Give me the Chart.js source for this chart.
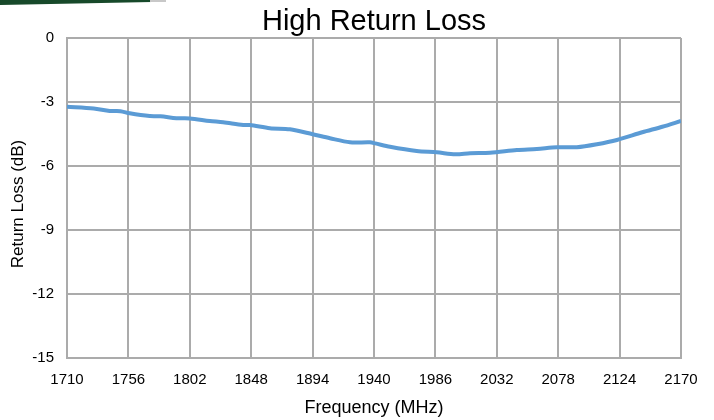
<!DOCTYPE html>
<html>
<head>
<meta charset="utf-8">
<script src="https://cdn.jsdelivr.net/npm/chart.js@4/dist/chart.umd.min.js"></script>
<style>
  html, body { margin: 0; padding: 0; background: #fff; }
  #wrap { position: relative; width: 714px; height: 420px; overflow: hidden; }
  #brand { position: absolute; left: 0; top: 0; width: 152px; height: 5px; background: #17492a;
           clip-path: polygon(0 0, 152px 0, 152px 2px, 0 5px); }
  #brand2 { position: absolute; left: 150px; top: 0; width: 16px; height: 2px; background: #c8c8c8; }
  canvas { position: absolute; left: 0; top: 0; }
</style>
</head>
<body>
<div id="wrap">
  <canvas id="chart" width="714" height="420"></canvas>
  <div id="brand"></div>
  <div id="brand2"></div>
</div>
<script>
// Measured return loss across the 1710–2170 MHz band
const frequencyMHz = [1710, 1730, 1742, 1750, 1757, 1772, 1780, 1792, 1802, 1817, 1827, 1842,
                      1847, 1862, 1877, 1894, 1907, 1922, 1937, 1941, 1952, 1972, 1987, 2001,
                      2012, 2027, 2047, 2062, 2077, 2092, 2107, 2122, 2141, 2156, 2170];
const returnLossDb = [-3.22, -3.30, -3.42, -3.43, -3.53, -3.66, -3.67, -3.76, -3.77, -3.89, -3.95, -4.08,
                      -4.08, -4.23, -4.28, -4.51, -4.70, -4.89, -4.89, -4.94, -5.10, -5.30, -5.36, -5.45,
                      -5.40, -5.38, -5.25, -5.20, -5.12, -5.12, -4.98, -4.78, -4.42, -4.16, -3.89];

const xTickValues = [1710, 1756, 1802, 1848, 1894, 1940, 1986, 2032, 2078, 2124, 2170];
const yTickValues = [0, -3, -6, -9, -12, -15];

const chartTitle = 'High Return Loss';
const xAxisTitle = 'Frequency (MHz)';
const yAxisTitle = 'Return Loss (dB)';

const FONT = '"Liberation Sans", Arial, sans-serif';
const GRID = '#ababab';

// Chart title centred over the plot area, and the rotated y-axis title
const titlesPlugin = {
  id: 'titles',
  afterDraw(chart) {
    const { ctx, chartArea } = chart;
    ctx.save();
    ctx.fillStyle = '#000';
    ctx.font = '29px ' + FONT;
    ctx.textAlign = 'center';
    ctx.textBaseline = 'alphabetic';
    ctx.fillText(chartTitle, (chartArea.left + chartArea.right) / 2, 30);

    ctx.font = '17px ' + FONT;
    ctx.textBaseline = 'middle';
    ctx.translate(18, 204);
    ctx.rotate(-Math.PI / 2);
    ctx.fillText(yAxisTitle, 0, 0);
    ctx.restore();
  }
};

new Chart(document.getElementById('chart'), {
  type: 'line',
  data: {
    datasets: [{
      data: frequencyMHz.map((f, i) => ({ x: f, y: returnLossDb[i] })),
      borderColor: '#5b9bd5',
      borderWidth: 4,
      pointRadius: 0,
      tension: 0.3,
      fill: false
    }]
  },
  options: {
    responsive: false,
    animation: false,
    devicePixelRatio: 1,
    layout: { padding: { top: 38, right: 33, bottom: 0, left: 0 } },
    plugins: { legend: { display: false }, tooltip: { enabled: false }, title: { display: false } },
    scales: {
      x: {
        type: 'linear',
        min: 1710,
        max: 2170,
        afterBuildTicks: (s) => { s.ticks = xTickValues.map(v => ({ value: v })); },
        afterFit: (s) => { s.height = 62; },
        grid: { color: GRID, lineWidth: 2, drawTicks: false },
        border: { color: GRID, width: 2 },
        ticks: {
          padding: 13,
          color: '#000',
          font: { family: FONT, size: 15 },
          callback: (v) => String(v),
          maxRotation: 0,
          autoSkip: false
        },
        title: {
          display: true,
          text: xAxisTitle,
          color: '#000',
          font: { family: FONT, size: 18 },
          padding: { top: 0, bottom: 1 }
        }
      },
      y: {
        min: -15,
        max: 0,
        afterBuildTicks: (s) => { s.ticks = yTickValues.map(v => ({ value: v })); },
        afterFit: (s) => { s.width = 67; },
        grid: { color: GRID, lineWidth: 2, drawTicks: false },
        border: { color: GRID, width: 2 },
        ticks: {
          padding: 13,
          color: '#000',
          font: { family: FONT, size: 15 },
          callback: (v) => String(v)
        }
      }
    }
  },
  plugins: [titlesPlugin]
});
</script>
</body>
</html>
